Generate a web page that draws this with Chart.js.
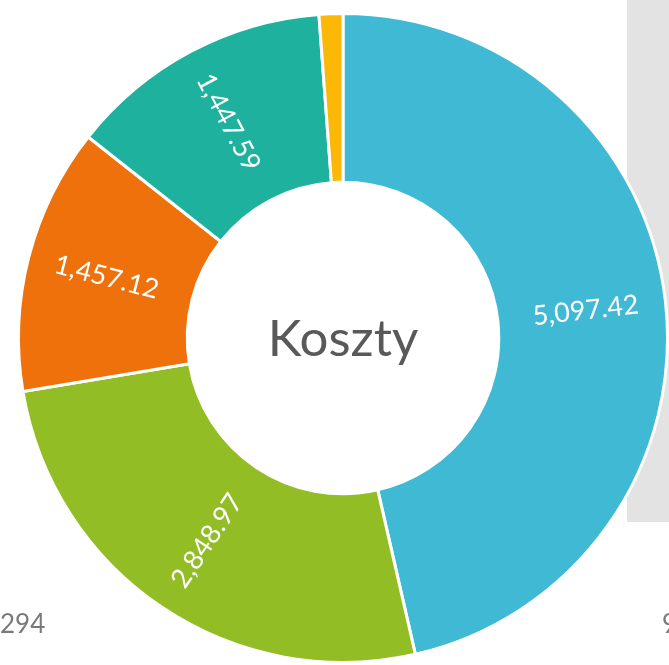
<!DOCTYPE html>
<html>
<head>
<meta charset="utf-8">
<script src="https://cdn.jsdelivr.net/npm/chart.js@4/dist/chart.umd.min.js"></script>
<style>
  html, body { margin: 0; padding: 0; background: #fff; }
  #wrap { width: 669px; height: 665px; position: relative; }
</style>
</head>
<body>
<div id="wrap"><canvas id="koszty"></canvas></div>
<script>
var kategorie = ['A', 'B', 'C', 'D', 'E'];
var wartosci = [5097.42, 2848.97, 1457.12, 1447.59, 130];
var kolory = ['#40b9d4', '#93bd25', '#ee710b', '#1eb29e', '#fbb806'];
var tytul = 'Koszty';
var etykietyBoczne = ['294', '9'];

// tlo: szary prostokat po prawej i teksty przy dolnej krawedzi
const tloPlugin = {
    id: 'tlo',
    beforeDraw(chart) {
        const ctx = chart.ctx;
        ctx.save();
        ctx.fillStyle = '#e3e3e3';
        ctx.fillRect(627, 0, 42, 522);
        ctx.fillStyle = '#7a7a7a';
        ctx.font = '26px Lato, "Open Sans", sans-serif';
        ctx.textBaseline = 'alphabetic';
        ctx.textAlign = 'left';
        ctx.fillText(etykietyBoczne[0], 0, 633);
        ctx.fillText(etykietyBoczne[1], 662, 633);
        ctx.restore();
    }
};

const etykietyPlugin = {
    id: 'etykiety',
    afterDatasetsDraw(chart) {
        const ctx = chart.ctx;
        const meta = chart.getDatasetMeta(0);
        ctx.save();
        meta.data.forEach((arc, i) => {
            const p = arc.getProps(['x', 'y', 'startAngle', 'endAngle', 'innerRadius', 'outerRadius'], true);
            if (p.endAngle - p.startAngle < 0.2) return;
            const mid = (p.startAngle + p.endAngle) / 2;
            const r = (p.innerRadius + p.outerRadius) / 2 + 4;
            const x = p.x + Math.cos(mid) * r;
            const y = p.y + Math.sin(mid) * r;
            let rot = mid;
            if (Math.cos(mid) < 0) rot += Math.PI;
            ctx.translate(x, y);
            ctx.rotate(rot);
            ctx.fillStyle = '#ffffff';
            ctx.font = '27px Lato, "Open Sans", sans-serif';
            ctx.textAlign = 'center';
            ctx.textBaseline = 'middle';
            ctx.fillText(wartosci[i].toLocaleString('en-US', {minimumFractionDigits: 2, maximumFractionDigits: 2}), 0, 0);
            ctx.setTransform(1, 0, 0, 1, 0, 0);
        });
        const a = meta.data[0];
        ctx.fillStyle = '#595959';
        ctx.font = '51px Lato, "Open Sans", sans-serif';
        ctx.textAlign = 'center';
        ctx.textBaseline = 'middle';
        ctx.fillText(tytul, a.x, a.y + 2);
        ctx.restore();
    }
};

const el = document.getElementById('koszty');
let wykres = new Chart(el, {
    type: 'doughnut',
    data: {
        labels: kategorie,
        datasets: [{
            data: wartosci,
            backgroundColor: kolory,
            borderColor: '#ffffff',
            borderWidth: 3
        }]
    },
    options: {
        responsive: true,
        maintainAspectRatio: false,
        animation: false,
        cutout: '48%',
        layout: { padding: { left: 17, top: 11, right: 0, bottom: 0 } },
        plugins: {
            legend: { display: false },
            tooltip: { enabled: false }
        }
    },
    plugins: [tloPlugin, etykietyPlugin]
});
</script>
</body>
</html>
